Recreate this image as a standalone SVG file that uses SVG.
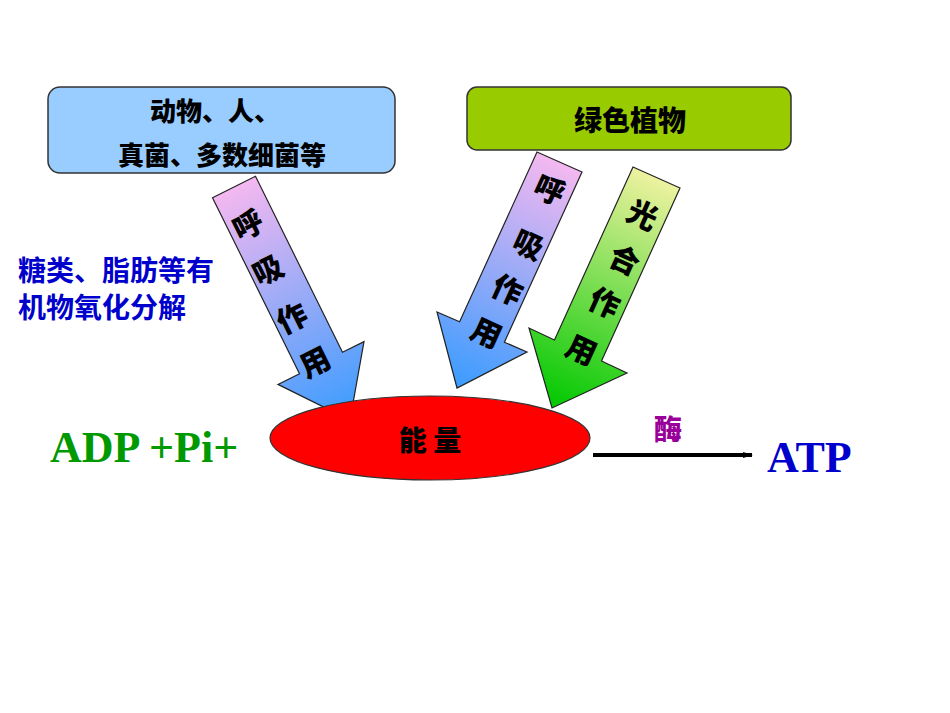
<svg xmlns="http://www.w3.org/2000/svg" width="950" height="713" viewBox="0 0 950 713">
<style>
.cj{font-family:"Noto Sans CJK SC",sans-serif;font-weight:900;fill:#000}
.ar{font-size:30px;text-anchor:middle}
.bx{stroke:#333;stroke-width:1.5}
.big{font-family:"Liberation Serif",serif;font-weight:bold;font-size:44px}
</style>
<defs>
<linearGradient id="g1" gradientUnits="userSpaceOnUse" x1="234" y1="187" x2="350" y2="420"><stop offset="0" stop-color="#f4b8f0"/><stop offset="1" stop-color="#3a9cff"/></linearGradient>
<linearGradient id="g2" gradientUnits="userSpaceOnUse" x1="559" y1="162" x2="457" y2="388"><stop offset="0" stop-color="#f4b8f0"/><stop offset="1" stop-color="#3a9cff"/></linearGradient>
<linearGradient id="g3" gradientUnits="userSpaceOnUse" x1="656" y1="177" x2="552" y2="408"><stop offset="0" stop-color="#eef2a0"/><stop offset="1" stop-color="#00c800"/></linearGradient>
<marker id="m" markerWidth="10" markerHeight="6" refX="9" refY="3" orient="auto" markerUnits="userSpaceOnUse"><path d="M0,0 L10,3 L0,6 Z" fill="#000"/></marker>
</defs>
<g id="box-animals"><rect class="bx" x="48" y="87" width="347" height="86" rx="12" fill="#99ccff"/>
<text class="cj" x="215" y="121" font-size="26" text-anchor="middle">动物、人、</text>
<text class="cj" x="222" y="165" font-size="26" text-anchor="middle">真菌、多数细菌等</text></g>
<g id="box-plants"><rect class="bx" x="467" y="87" width="324" height="63" rx="10" fill="#99cc00"/>
<text class="cj" x="630" y="131" font-size="28" text-anchor="middle">绿色植物</text></g>
<g id="note"><text x="18" y="281" font-family="Noto Sans CJK SC,sans-serif" font-weight="bold" font-size="28" fill="#0000cc">糖类、脂肪等有</text>
<text x="18" y="318" font-family="Noto Sans CJK SC,sans-serif" font-weight="bold" font-size="28" fill="#0000cc">机物氧化分解</text></g>
<g id="connectors" stroke="#222" stroke-width="1.2">
<polygon fill="url(#g1)" points="212.5,197.7 255.5,176.3 342.5,352.3 364,341.6 350,420 278,384.4 299.5,373.7"/>
<polygon fill="url(#g2)" points="537,152 582,172 504.4,342.2 527,352 457,388 437,312 459.6,321.8"/>
<polygon fill="url(#g3)" points="633,167 680,188 601.5,361 627,373 552,408 529,328 554.5,340"/>
<line x1="593" y1="455" x2="752" y2="455" stroke="#000" stroke-width="4" marker-end="url(#m)"/>
</g>
<g id="arrow-labels" class="cj ar">
<text transform="translate(253,235) rotate(-26.5)">呼</text>
<text transform="translate(273,280) rotate(-26.5)">吸</text>
<text transform="translate(297,328) rotate(-26.5)">作</text>
<text transform="translate(320,372) rotate(-26.5)">用</text>
<text transform="translate(545,200) rotate(24.4)">呼</text>
<text transform="translate(524,255) rotate(24.4)">吸</text>
<text transform="translate(503,300) rotate(24.4)">作</text>
<text transform="translate(482,343) rotate(24.4)">用</text>
<text transform="translate(638,225) rotate(24.4)">光</text>
<text transform="translate(620,270) rotate(24.4)">合</text>
<text transform="translate(600,313) rotate(24.4)">作</text>
<text transform="translate(577,360) rotate(24.4)">用</text>
</g>
<g id="energy"><ellipse cx="430" cy="438" rx="160" ry="42" fill="#ff0000" stroke="#333" stroke-width="1.2"/>
<text class="cj" x="430" y="451" font-size="28" text-anchor="middle">能 量</text></g>
<g id="adp"><text class="big" x="50" y="462" fill="#009900">ADP +Pi+</text></g>
<g id="atp"><text class="big" x="767" y="472" fill="#0000cc">ATP</text></g>
<g id="enzyme"><text x="668" y="440" font-family="Noto Sans CJK SC,sans-serif" font-weight="900" font-size="28" fill="#990099" text-anchor="middle">酶</text></g>
</svg>
